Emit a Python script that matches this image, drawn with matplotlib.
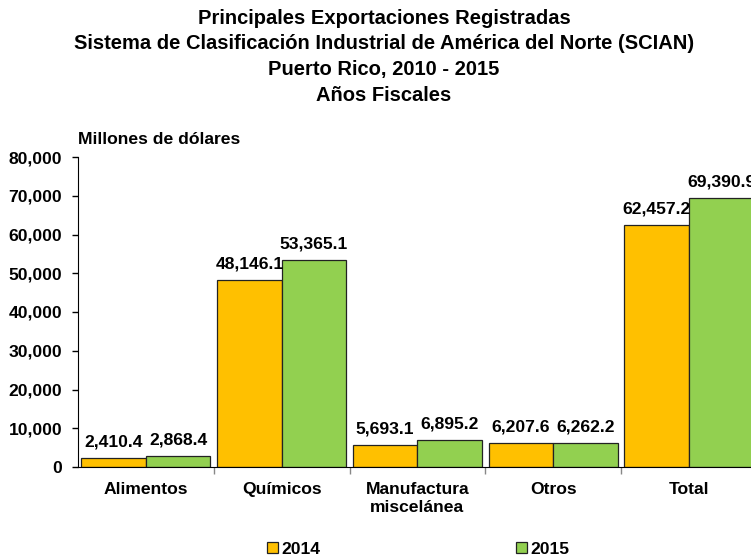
import numpy as np
import matplotlib
matplotlib.use("Agg")
import matplotlib.pyplot as plt
from matplotlib.ticker import FuncFormatter

categorias = ["Alimentos", "Químicos", "Manufactura\nmiscelánea", "Otros", "Total"]
valores_2014 = [2410.4, 48146.1, 5693.1, 6207.6, 62457.2]
valores_2015 = [2868.4, 53365.1, 6895.2, 6262.2, 69390.9]
series = ["2014", "2015"]

titulo = ["Principales Exportaciones Registradas",
          "Sistema de Clasificación Industrial de América del Norte (SCIAN)",
          "Puerto Rico, 2010 - 2015",
          "Años Fiscales"]

plt.rcParams['font.family'] = ['Liberation Sans', 'DejaVu Sans']
plt.rcParams['font.weight'] = 'bold'

fig = plt.figure(figsize=(7.51, 5.59), dpi=100)
ax = fig.add_axes([78 / 751, 92 / 559, 678.75 / 751, 310 / 559])

x = np.arange(len(categorias))
w = 0.475
b1 = ax.bar(x - w / 2, valores_2014, w, color="#FFC000", edgecolor="#222222", linewidth=0.9, label=series[0])
b2 = ax.bar(x + w / 2, valores_2015, w, color="#92D050", edgecolor="#222222", linewidth=0.9, label=series[1])

for bars in (b1, b2):
    for r in bars:
        v = r.get_height()
        ax.annotate(f"{v:,.1f}", (r.get_x() + r.get_width() / 2, v),
                    xytext=(0, 11.5), textcoords="offset points",
                    ha="center", va="center", fontsize=12.6, fontweight="bold")

ax.set_xlim(-0.5, len(categorias) - 0.5)
ax.set_ylim(0, 80000)
ax.set_yticks(np.arange(0, 80001, 10000))
ax.yaxis.set_major_formatter(FuncFormatter(lambda v, p: f"{v:,.0f}"))
ax.tick_params(axis="y", length=4.3, width=1, pad=7.2, labelsize=12.6)

ax.set_xticks(x)
ax.set_xticklabels(categorias, fontsize=12.6, fontweight="bold", linespacing=1.25)
ax.tick_params(axis="x", which="major", length=0, pad=11)
ax.set_xticks(np.arange(0.5, len(categorias) - 0.5, 1), minor=True)
ax.tick_params(axis="x", which="minor", length=5, width=1, color="#888888")

for s in ["top", "right"]:
    ax.spines[s].set_visible(False)
ax.spines["left"].set_color("black")
ax.spines["bottom"].set_color("black")

ax.text(0, 1.055, "Millones de dólares", transform=ax.transAxes,
        fontsize=12.6, fontweight="bold", ha="left", va="center")

for i, t in enumerate(titulo):
    fig.text(384 / 751, 1 - (18 + i * 25.7) / 559, t, ha="center", va="center",
             fontsize=14.5, fontweight="bold")

leg = fig.legend(loc="center", bbox_to_anchor=(418 / 751, 1 - 549 / 559), ncol=2,
                 frameon=False, fontsize=12.6, handlelength=0.6, handleheight=0.6,
                 handletextpad=0.2, columnspacing=11.2)

fig.savefig("out.png", dpi=100)
